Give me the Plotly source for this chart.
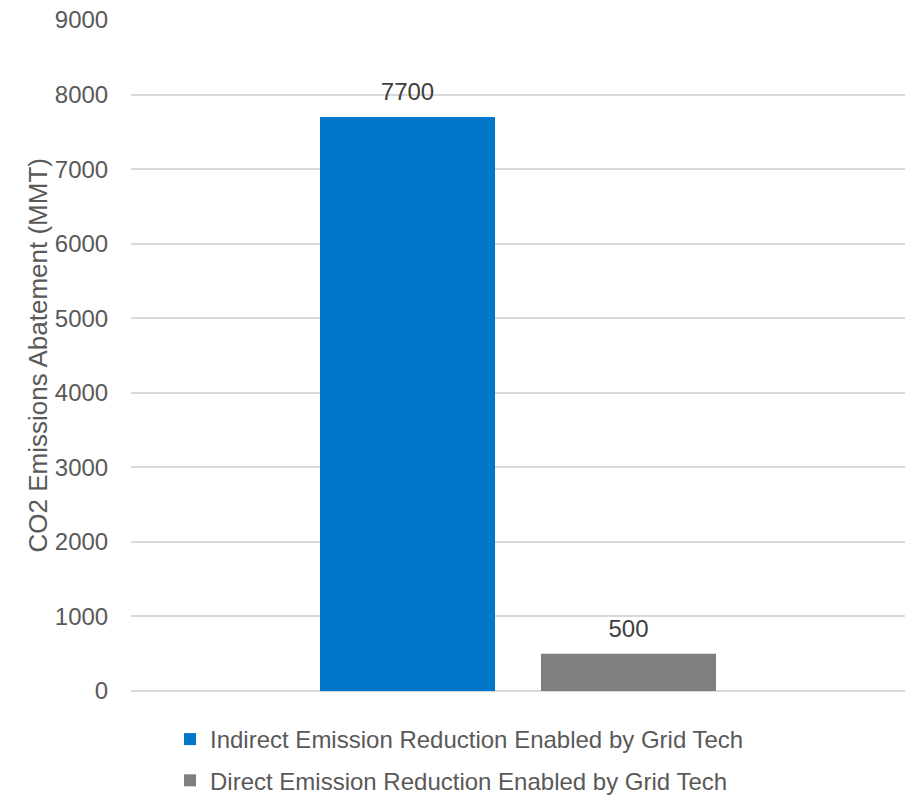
import plotly.graph_objects as go

categories = ["Grid Tech"]
series_names = [
    "Indirect Emission Reduction Enabled by Grid Tech",
    "Direct Emission Reduction Enabled by Grid Tech",
]
series_values = [[7700], [500]]
series_colors = ["#0077C8", "#7F7F7F"]
y_tick_values = [0, 1000, 2000, 3000, 4000, 5000, 6000, 7000, 8000, 9000]
y_title = "CO2 Emissions Abatement (MMT)"

FONT = "Liberation Sans, Arial, sans-serif"

fig = go.Figure()
for i, (name, vals, col) in enumerate(zip(series_names, series_values, series_colors)):
    fig.add_trace(go.Bar(
        x=categories, y=vals, name=name,
        marker=dict(color=col, line=dict(width=0)),
        offsetgroup=f"g{i}", alignmentgroup="a",
        legendgroup=f"g{i}",
    ))
for i, vals in enumerate(series_values):
    fig.add_trace(go.Scatter(
        x=categories, y=vals, mode="markers+text",
        marker=dict(size=16, color="rgba(0,0,0,0)"),
        text=[str(v) for v in vals], textposition="top center",
        textfont=dict(family=FONT, size=24, color="#404040"),
        offsetgroup=f"g{i}", alignmentgroup="a",
        showlegend=False, cliponaxis=False, hoverinfo="skip",
    ))

fig.update_layout(
    width=905, height=795,
    margin=dict(l=131, r=0, t=20, b=104, autoexpand=False),
    paper_bgcolor="white", plot_bgcolor="white",
    barmode="group", bargap=0.429, bargroupgap=0.208,
    scattermode="group", scattergap=0.429,
    font=dict(family=FONT, size=24, color="#595959"),
    showlegend=True,
    legend=dict(
        orientation="v", xref="container", yref="container",
        x=170 / 905, xanchor="left", y=1 - 717 / 795, yanchor="top",
        font=dict(family=FONT, size=24, color="#595959"),
        tracegroupgap=7, bgcolor="rgba(0,0,0,0)",
    ),
    xaxis=dict(showticklabels=False, showgrid=False, zeroline=False,
               showline=False, ticks=""),
    yaxis=dict(
        range=[0, 9000], tickvals=y_tick_values, showgrid=True,
        gridcolor="#D9D9D9", gridwidth=1.5, zeroline=True,
        zerolinecolor="#D9D9D9", zerolinewidth=1.5, showline=False,
        ticks="outside", ticklen=17, tickcolor="rgba(0,0,0,0)",
        tickfont=dict(family=FONT, size=24, color="#595959"),
    ),
    annotations=[dict(
        text=y_title, textangle=-90, showarrow=False,
        xref="paper", yref="paper", x=-(131 - 37) / 774, y=0.5,
        xanchor="center", yanchor="middle",
        font=dict(family=FONT, size=26, color="#595959"),
    )],
)

fig.write_html("out.html")
